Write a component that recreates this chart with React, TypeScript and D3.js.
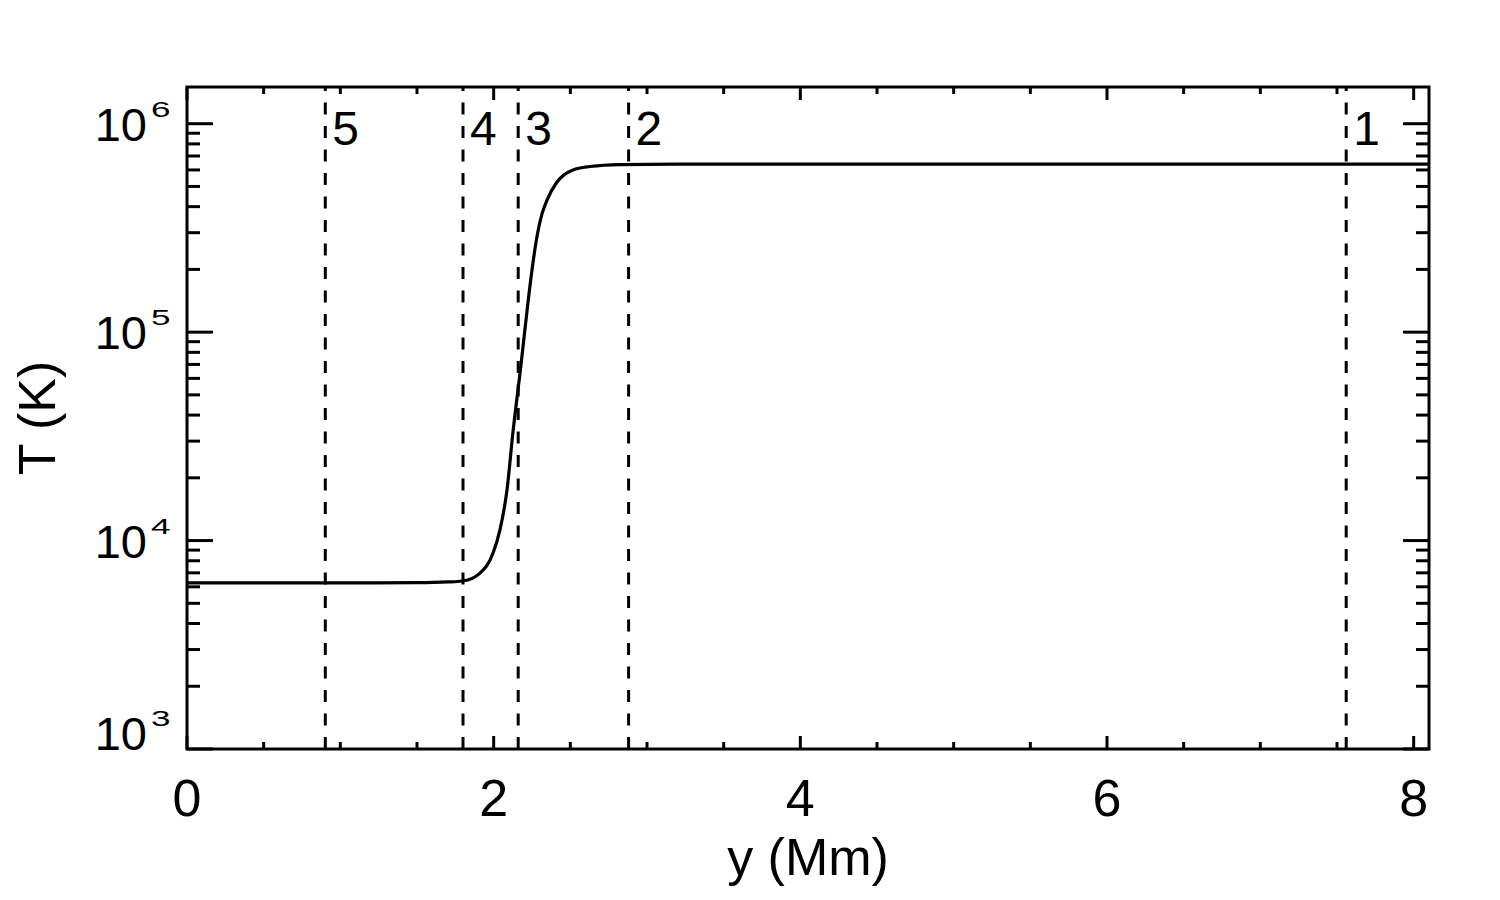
import React from "react";
import * as d3 from "d3";

// Temperature profile T(y)
const yMm = [0, 0.5, 1.0, 1.5, 1.7, 1.8, 1.911, 1.996, 2.041, 2.087, 2.126, 2.178, 2.224, 2.257, 2.283, 2.315, 2.348, 2.413, 2.517, 2.628, 2.824, 3.2, 4, 5, 6, 7, 8.1];
const tempK = [6260, 6260, 6265, 6280, 6330, 6400, 6980, 8710, 11250, 17500, 33200, 69500, 139300, 216800, 289000, 369000, 430000, 525000, 600000, 623000, 637000, 640000, 640000, 640000, 640000, 640000, 640000];

// Vertical dashed markers
const markerPos = [7.56, 2.88, 2.16, 1.8, 0.902];
const markerLabels = ["1", "2", "3", "4", "5"];

// Axis ticks
const xMajorTicks = [0, 2, 4, 6, 8];
const xTickLabels = ["0", "2", "4", "6", "8"];
const yMajorTicks = [1e3, 1e4, 1e5, 1e6];
const yTickExponents = ["3", "4", "5", "6"];

const xDomain: [number, number] = [0, 8.1];
const yDomain: [number, number] = [1e3, 1.5e6];

export default function App() {
  const W = 1500;
  const H = 900;
  const left = 187;
  const right = 1429;
  const top = 87;
  const bottom = 749;

  const x = d3.scaleLinear().domain(xDomain).range([left, right]);
  const y = d3.scaleLog().domain(yDomain).range([bottom, top]);

  const pts = yMm.map((v, i) => ({ x: v, t: tempK[i] }));
  const line = d3
    .line<{ x: number; t: number }>()
    .x((d) => x(d.x))
    .y((d) => y(d.t))
    .curve(d3.curveMonotoneX);

  const vline = d3
    .line<{ x: number; t: number }>()
    .x((d) => x(d.x))
    .y((d) => y(d.t));

  // minor ticks
  const xMinor: number[] = [];
  for (let v = 0.5; v <= 8.1; v += 0.5) {
    if (Math.abs(v / 2 - Math.round(v / 2)) > 1e-6) xMinor.push(v);
  }
  const yMinor: number[] = [];
  for (let e = 3; e <= 6; e++) {
    for (let m = 2; m <= 9; m++) {
      const v = m * Math.pow(10, e);
      if (v <= yDomain[1]) yMinor.push(v);
    }
  }

  const font = "'Liberation Sans', Arial, Helvetica, sans-serif";
  const sw = 3;

  return (
    <svg
      width={W}
      height={H}
      style={{ position: "absolute", left: 0, top: 0, background: "#fff" }}
      fontFamily={font}
    >
      <rect x={0} y={0} width={W} height={H} fill="#fff" />

      {/* dashed markers */}
      {markerPos.map((p, i) => (
        <g key={"m" + i}>
          <path
            d={vline([
              { x: p, t: yDomain[0] },
              { x: p, t: yDomain[1] },
            ]) || ""}
            stroke="#000"
            strokeWidth={3}
            strokeDasharray="12 11.5"
            fill="none"
          />
          <text x={x(p) + 7} y={145} fontSize={48} fill="#000">
            {markerLabels[i]}
          </text>
        </g>
      ))}

      {/* curve */}
      <path d={line(pts) || ""} stroke="#000" strokeWidth={3.2} fill="none" strokeLinejoin="round" />

      {/* x ticks */}
      {xMajorTicks.map((v, i) => (
        <g key={"xt" + i}>
          <line x1={x(v)} x2={x(v)} y1={bottom} y2={bottom - 13} stroke="#000" strokeWidth={sw} />
          <line x1={x(v)} x2={x(v)} y1={top} y2={top + 13} stroke="#000" strokeWidth={sw} />
          <text x={x(v)} y={816} fontSize={52} textAnchor="middle" fill="#000">
            {xTickLabels[i]}
          </text>
        </g>
      ))}
      {xMinor.map((v, i) => (
        <g key={"xm" + i}>
          <line x1={x(v)} x2={x(v)} y1={bottom} y2={bottom - 7} stroke="#000" strokeWidth={sw} />
          <line x1={x(v)} x2={x(v)} y1={top} y2={top + 7} stroke="#000" strokeWidth={sw} />
        </g>
      ))}

      {/* y ticks */}
      {yMajorTicks.map((v, i) => {
        const base = y(v) + (i === 0 ? 1 : 17);
        return (
          <g key={"yt" + i}>
            <line x1={left} x2={left + 26} y1={y(v)} y2={y(v)} stroke="#000" strokeWidth={sw} />
            <line x1={right} x2={right - 26} y1={y(v)} y2={y(v)} stroke="#000" strokeWidth={sw} />
            <text x={147} y={base} fontSize={47} textAnchor="end" fill="#000">
              10
            </text>
            <text
              transform={`translate(151, ${base - 24}) scale(1.35, 0.85)`}
              fontSize={26}
              fill="#000"
            >
              {yTickExponents[i]}
            </text>
          </g>
        );
      })}
      {yMinor.map((v, i) => (
        <g key={"ym" + i}>
          <line x1={left} x2={left + 13} y1={y(v)} y2={y(v)} stroke="#000" strokeWidth={sw} />
          <line x1={right} x2={right - 13} y1={y(v)} y2={y(v)} stroke="#000" strokeWidth={sw} />
        </g>
      ))}

      {/* frame */}
      <rect
        x={left}
        y={top}
        width={right - left}
        height={bottom - top}
        fill="none"
        stroke="#000"
        strokeWidth={sw}
      />

      {/* axis titles */}
      <text x={(left + right) / 2} y={875} fontSize={52} textAnchor="middle" fill="#000">
        y (Mm)
      </text>
      <text
        transform={`translate(55, ${(top + bottom) / 2}) rotate(-90)`}
        fontSize={52}
        textAnchor="middle"
        fill="#000"
      >
        T (K)
      </text>
    </svg>
  );
}
